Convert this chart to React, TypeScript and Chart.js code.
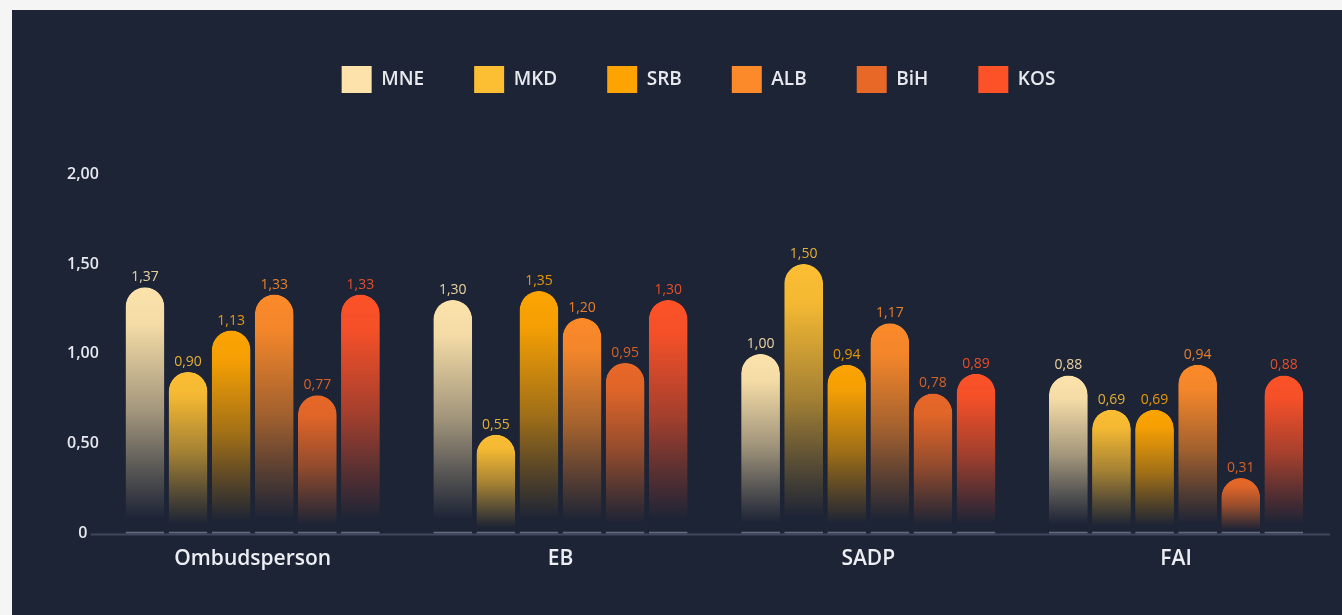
import React, { useEffect, useRef } from "react";
import { Chart, registerables } from "chart.js";

Chart.register(...registerables);

// Institutions on the x axis
const categories = ["Ombudsperson", "EB", "SADP", "FAI"];

// Countries (one dataset each) and their colours
const seriesNames = ["MNE", "MKD", "SRB", "ALB", "BiH", "KOS"];
const seriesColors = ["#fde3ab", "#fcbe33", "#fda402", "#fc8a2a", "#e86828", "#fd5228"];

// Scores per institution, in category order
const mneValues = [1.37, 1.3, 1.0, 0.88];
const mkdValues = [0.9, 0.55, 1.5, 0.69];
const srbValues = [1.13, 1.35, 0.94, 0.69];
const albValues = [1.33, 1.2, 1.17, 0.94];
const bihValues = [0.77, 0.95, 0.78, 0.31];
const kosValues = [1.33, 1.3, 0.89, 0.88];

const seriesValues = [mneValues, mkdValues, srbValues, albValues, bihValues, kosValues];

// Value axis range
const yMin = 0;
const yMax = 2;
const yStep = 0.5;

const FONT = "'Open Sans', 'Noto Sans', sans-serif";
const PANEL_BG = "#1d2436";

const formatValue = (v: number) => (v === 0 ? "0" : v.toFixed(2).replace(".", ","));

function hexToRgba(hex: string, a: number) {
  const n = parseInt(hex.slice(1), 16);
  return `rgba(${(n >> 16) & 255}, ${(n >> 8) & 255}, ${n & 255}, ${a})`;
}

// Each bar fades from its colour at the top into the background at the base
function barGradient(color: string) {
  return (ctx: any) => {
    const chart = ctx.chart;
    const yScale = chart.scales?.y;
    if (!chart.chartArea || !yScale || ctx.parsed == null) return color;
    const top = yScale.getPixelForValue(ctx.parsed.y);
    const base = yScale.getPixelForValue(0);
    if (!isFinite(top) || !isFinite(base) || base - top < 1) return color;
    const g = chart.ctx.createLinearGradient(0, top, 0, base);
    g.addColorStop(0, hexToRgba(color, 1));
    g.addColorStop(0.15, hexToRgba(color, 0.96));
    g.addColorStop(0.5, hexToRgba(color, 0.6));
    g.addColorStop(0.75, hexToRgba(color, 0.25));
    g.addColorStop(0.94, hexToRgba(color, 0));
    g.addColorStop(1, hexToRgba(color, 0));
    return g;
  };
}

// Extra room between the legend and the plot
const legendGap = {
  id: "legendGap",
  beforeLayout(chart: any) {
    const lg = chart.legend;
    if (lg && !lg.__gap) {
      const fit = lg.fit;
      lg.fit = function () {
        fit.call(this);
        this.height += 71;
      };
      lg.__gap = true;
    }
  },
};

// Baseline at zero, running a little past the left edge of the plot
const baseline = {
  id: "baseline",
  beforeDatasetsDraw(chart: any) {
    const { ctx, chartArea, scales } = chart;
    const y = Math.round(scales.y.getPixelForValue(0)) + 0.5;
    ctx.save();
    ctx.strokeStyle = "#41475a";
    ctx.lineWidth = 2;
    ctx.beginPath();
    ctx.moveTo(chartArea.left - 8, y);
    ctx.lineTo(chartArea.right, y);
    ctx.stroke();
    ctx.restore();
  },
};

// Value labels above every bar, in the series colour
const valueLabels = {
  id: "valueLabels",
  afterDatasetsDraw(chart: any) {
    const { ctx } = chart;
    ctx.save();
    ctx.font = `400 14px ${FONT}`;
    ctx.textAlign = "center";
    ctx.textBaseline = "alphabetic";
    chart.data.datasets.forEach((ds: any, di: number) => {
      const meta = chart.getDatasetMeta(di);
      if (meta.hidden) return;
      ctx.fillStyle = hexToRgba(seriesColors[di], 0.9);
      meta.data.forEach((el: any, i: number) => {
        ctx.fillText(formatValue(ds.data[i]), el.x, el.y - 6);
      });
    });
    ctx.restore();
  },
};

export default function App() {
  const canvasRef = useRef<HTMLCanvasElement>(null);

  useEffect(() => {
    if (!canvasRef.current) return;
    const datasets = seriesNames.map((name, i) => ({
      label: name,
      data: seriesValues[i],
      backgroundColor: barGradient(seriesColors[i]),
      borderColor: "#646b80",
      borderWidth: { top: 0, left: 0, right: 0, bottom: 2 },
      borderSkipped: false as const,
      borderRadius: { topLeft: 20, topRight: 20, bottomLeft: 0, bottomRight: 0 },
      barPercentage: 0.9,
      categoryPercentage: 0.84,
    }));

    const chart = new Chart(canvasRef.current, {
      type: "bar",
      data: { labels: categories, datasets },
      plugins: [legendGap, baseline, valueLabels],
      options: {
        animation: false,
        responsive: true,
        maintainAspectRatio: false,
        layout: { padding: { top: 6, left: 55, right: 12, bottom: 38 } },
        plugins: {
          tooltip: { enabled: false },
          legend: {
            position: "top",
            align: "center",
            labels: {
              boxWidth: 30,
              boxHeight: 27,
              padding: 50,
              color: "#e8e9ef",
              font: { family: FONT, size: 19, weight: 600 },
              generateLabels: () =>
                seriesNames.map((name, i) => ({
                  text: name,
                  fillStyle: seriesColors[i],
                  strokeStyle: seriesColors[i],
                  lineWidth: 0,
                  hidden: false,
                  datasetIndex: i,
                  fontColor: "#e8e9ef",
                })),
            },
          },
        },
        scales: {
          x: {
            grid: { display: false },
            border: { display: false },
            ticks: {
              color: "#eceef3",
              padding: 5,
              font: { family: FONT, size: 21, weight: 600 },
            },
          },
          y: {
            min: yMin,
            max: yMax,
            grid: { display: false, drawTicks: false },
            border: { display: false },
            ticks: {
              stepSize: yStep,
              crossAlign: "center",
              padding: 0,
              color: "#e6e8ee",
              font: { family: FONT, size: 16, weight: 600 },
              callback: (v: any) => formatValue(Number(v)),
            },
          },
        },
      },
    } as any);
    return () => chart.destroy();
  }, []);

  return (
    <div style={{ position: "fixed", inset: 0, background: "#f5f5f5" }}>
      <div
        style={{
          position: "absolute",
          left: 12,
          top: 10,
          width: 1330,
          height: 605,
          background: PANEL_BG,
        }}
      >
        <canvas ref={canvasRef} />
      </div>
    </div>
  );
}
